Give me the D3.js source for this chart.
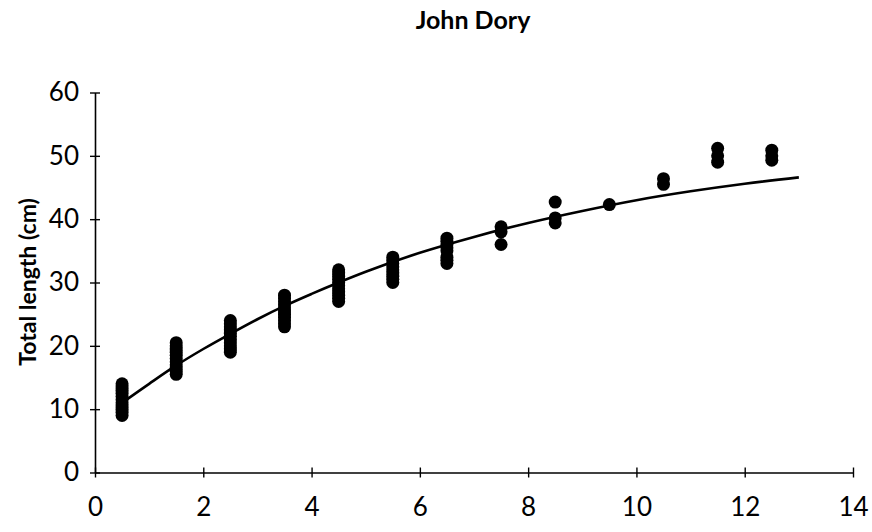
<!DOCTYPE html>
<html>
<head>
<meta charset="utf-8">
<script src="https://cdn.jsdelivr.net/npm/d3@7"></script>
<style>
  body { margin: 0; background: #fff; }
  text { font-family: "Lato", "DejaVu Sans", sans-serif; fill: #000; }
</style>
</head>
<body>
<div id="chart"></div>
<script>
// age (years) for each cluster of observations
var ages = [0.5, 1.5, 2.5, 3.5, 4.5, 5.5, 6.5, 7.5, 8.5, 9.5, 10.5, 11.5, 12.5];
var lengths = [
    [9, 9.5, 10, 10.5, 11, 11.5, 12, 12.5, 13, 13.5, 14],
    [15.5, 16, 16.5, 17, 17.5, 18, 18.5, 19, 19.5, 20, 20.5],
    [19, 19.5, 20, 20.5, 21, 21.5, 22, 22.5, 23, 23.5, 24],
    [23, 23.5, 24, 24.5, 25, 25.5, 26, 26.5, 27, 27.5, 28],
    [27, 27.5, 28, 28.5, 29, 29.5, 30, 30.5, 31, 31.5, 32],
    [30, 30.5, 31, 31.5, 32, 32.5, 33, 33.5, 34],
    [33, 33.5, 34, 35, 35.5, 36, 36.5, 37],
    [36, 38, 38.8],
    [39.4, 40.2, 42.7],
    [42.3],
    [45.5, 46.4],
    [49, 50, 51.2],
    [49.3, 50, 50.9]
];
// fitted growth curve
var curveAge = [0.5, 1, 1.5, 2, 2.5, 3, 3.5, 4, 4.5, 5, 6, 7, 8, 9, 10, 11, 12, 13];
var curveLen = [11, 14, 16.9, 19.5, 21.9, 24.2, 26.3, 28.2, 30, 31.7, 34.7, 37.2, 39.4, 41.3, 43, 44.4, 45.6, 46.6];

var xTicks = [0, 2, 4, 6, 8, 10, 12, 14];
var yTicks = [0, 10, 20, 30, 40, 50, 60];

var W = 872, H = 532;
var svg = d3.select('#chart').append('svg')
    .attr('width', W)
    .attr('height', H);

var x = d3.scaleLinear().domain([0, 14]).range([95, 853]);
var y = d3.scaleLinear().domain([0, 60]).range([472.5, 92.5]);

// title
svg.append('text')
   .attr('x', 473)
   .attr('y', 29)
   .attr('text-anchor', 'middle')
   .style('font-size', '25px')
   .style('font-weight', 'bold')
   .text('John Dory');

// y axis title
svg.append('text')
   .attr('transform', 'translate(36,282) rotate(-90)')
   .attr('text-anchor', 'middle')
   .style('font-size', '23px')
   .style('font-weight', 'bold')
   .text('Total length (cm)');

// axes
var xAxis = d3.axisBottom(x).tickValues(xTicks).tickSize(0).tickPadding(25);
var yAxis = d3.axisLeft(y).tickValues(yTicks).tickSize(0).tickPadding(16);

var gx = svg.append('g').attr('transform', 'translate(0,' + y(0) + ')').call(xAxis);
var gy = svg.append('g').attr('transform', 'translate(' + x(0) + ',0)').call(yAxis);

[gx, gy].forEach(function(g) {
    g.select('.domain').attr('stroke', '#000').attr('stroke-width', 1.6);
    g.selectAll('.tick text')
     .style('font-size', '26px')
     .style('font-family', '"Lato", "DejaVu Sans", sans-serif');
});

// ticks crossing the axis lines
gx.selectAll('.tick').append('line')
  .attr('y1', -5).attr('y2', 5)
  .attr('stroke', '#000').attr('stroke-width', 1.4);
gy.selectAll('.tick').append('line')
  .attr('x1', -5).attr('x2', 5)
  .attr('stroke', '#000').attr('stroke-width', 1.4);

// observations
var pts = [];
ages.forEach(function(a, i) {
    lengths[i].forEach(function(v) { pts.push({age: a, len: v}); });
});

svg.append('g').selectAll('circle')
   .data(pts)
   .enter()
   .append('circle')
   .attr('cx', function(d) { return x(d.age); })
   .attr('cy', function(d) { return y(d.len); })
   .attr('r', 6.5)
   .attr('fill', '#000');

// fitted curve
var line = d3.line()
    .x(function(d, i) { return x(curveAge[i]); })
    .y(function(d) { return y(d); })
    .curve(d3.curveMonotoneX);

svg.append('path')
   .datum(curveLen)
   .attr('d', line)
   .attr('fill', 'none')
   .attr('stroke', '#000')
   .attr('stroke-width', 2.6);
</script>
</body>
</html>
